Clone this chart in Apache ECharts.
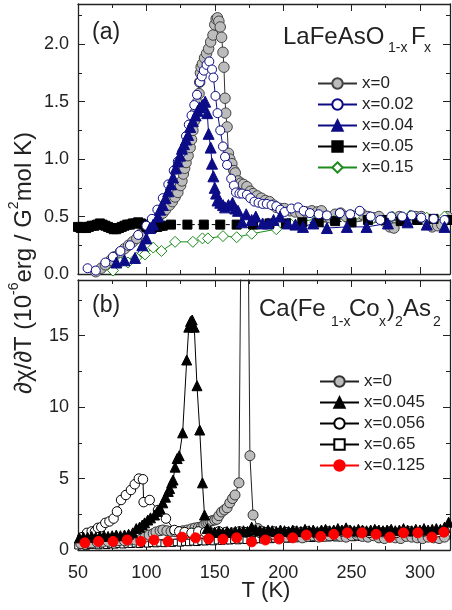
<!DOCTYPE html>
<html><head><meta charset="utf-8">
<script src="https://cdn.jsdelivr.net/npm/echarts@6/dist/echarts.min.js"></script>
<style>html,body{margin:0;padding:0;background:#fff}#c{width:452px;height:610px}</style>
</head><body><div id="c"></div>
<script>
const FONT = '"Liberation Sans", Arial, Helvetica, sans-serif';
const xRange = [50, 322];
const yRangeA = [0, 2.35];
const yRangeB = [0, 18.9];
const xTickStep = 50, yTickStepA = 0.5, yTickStepB = 5;
const legendA = ['x=0', 'x=0.02', 'x=0.04', 'x=0.05', 'x=0.15'];
const legendB = ['x=0 ', 'x=0.045', 'x=0.056', 'x=0.65', 'x=0.125'];

// ---- panel (a): LaFeAsO1-xFx ----
const a_x0 = [[63,0.02],[67,0.05],[70,0.08],[74,0.12],[77,0.15],[81,0.19],[84,0.22],[87,0.25],[90,0.28],[93,0.31],[96,0.35],[100,0.4],[103,0.43],[106,0.46],[109,0.5],[112,0.53],[114,0.56],[117,0.6],[119,0.63],[121,0.67],[123,0.71],[125,0.77],[126,0.81],[127,0.87],[128,0.92],[129,0.97],[130.5,1.03],[132,1.1],[133,1.17],[134,1.25],[135,1.33],[136,1.41],[137,1.49],[138.5,1.57],[139,1.67],[139.5,1.75],[140,1.8],[141,1.83],[142.5,1.88],[144,1.92],[145.5,1.96],[147,2.02],[148.7,2.08],[150,2.17],[151,2.22],[152,2.23],[153,2.2],[154,2.15],[155,2.06],[156,1.93],[156.7,1.8],[157.5,1.53],[158,1.4],[159,1.28],[160,1.05],[161,1.0],[162.5,0.96],[164,0.9],[165,0.88],[167,0.81],[169,0.79],[171,0.78],[173.5,0.76],[176,0.72],[178,0.7],[181,0.68],[184,0.66],[187,0.64],[190,0.63],[193,0.6],[195,0.58],[198,0.57],[201,0.57],[205,0.55],[209,0.54],[213,0.53],[217,0.54],[221,0.55],[225,0.54],[228,0.55],[231,0.5],[234,0.49],[238,0.52],[242,0.53],[246,0.5],[250,0.51],[254,0.5],[258,0.52],[262,0.5],[266,0.49],[270,0.5],[274,0.46],[278,0.41],[281,0.4],[285,0.5],[289,0.47],[293,0.48],[297,0.5],[301,0.5],[305,0.46],[309,0.41],[313,0.42],[316,0.43],[320,0.5]];
const a_x002 = [[57,0.05],[63,0.03],[70,0.1],[75.5,0.15],[81,0.2],[88,0.25],[94,0.34],[100,0.42],[104,0.48],[108,0.56],[112,0.66],[116,0.78],[120,0.9],[123,0.98],[126,1.06],[129,1.2],[131,1.3],[133,1.38],[135,1.47],[137,1.56],[139,1.67],[140.5,1.72],[142,1.77],[144,1.82],[146,1.85],[148,1.78],[149,1.71],[150.5,1.55],[152,1.4],[154,1.25],[156,1.11],[157.5,1.02],[159,0.95],[162,0.83],[164,0.77],[165.5,0.71],[168,0.7],[170,0.7],[173.5,0.69],[176,0.66],[179,0.63],[182,0.62],[185,0.61],[188,0.61],[191.5,0.6],[195,0.59],[198,0.56],[201,0.54],[206,0.57],[211,0.58],[215,0.55],[219.6,0.53],[226,0.52],[232,0.51],[241.5,0.53],[249,0.52],[256,0.55],[264,0.5],[271,0.47],[279,0.5],[287,0.5],[294,0.51],[301,0.49],[310,0.48],[318,0.47]];
const a_x004 = [[78,0.1],[84,0.12],[91.7,0.14],[97,0.25],[100,0.31],[102.6,0.4],[105,0.43],[108.5,0.5],[110,0.56],[112,0.6],[114,0.66],[116,0.72],[118,0.78],[119.5,0.84],[121.5,0.92],[123,0.98],[124.6,1.03],[126,1.09],[127.5,1.13],[129,1.17],[130.5,1.21],[132,1.28],[134,1.33],[136,1.38],[137.5,1.42],[139,1.45],[141,1.47],[143,1.5],[144.5,1.4],[145.5,1.22],[147,1.1],[148,0.96],[149,0.85],[150,0.75],[151,0.7],[152,0.64],[154,0.62],[156,0.6],[157.5,0.58],[160,0.6],[163,0.62],[165,0.57],[167,0.55],[170,0.45],[173,0.52],[177,0.47],[180,0.5],[185,0.44],[189,0.44],[193,0.47],[197.7,0.5],[203.5,0.44],[209,0.43],[214.5,0.41],[222,0.44],[232,0.4],[246.6,0.41],[261,0.41],[276.6,0.44],[291,0.45],[305,0.43],[318,0.41]];
const a_x005 = [[50,0.41],[52,0.4],[54,0.41],[56,0.4],[58,0.41],[60,0.42],[62,0.42],[64,0.43],[66,0.44],[68,0.43],[70,0.42],[72,0.41],[74,0.4],[76,0.39],[78,0.39],[80,0.4],[82,0.41],[84,0.42],[86,0.43],[88,0.43],[90,0.44],[92,0.44],[94,0.45],[96,0.44],[98,0.43],[100,0.41],[102,0.4],[104,0.4],[106,0.41],[108,0.41],[110,0.42],[112,0.42],[118,0.43],[130,0.43],[142,0.43],[154,0.43],[166,0.43],[178,0.43],[190,0.44],[202,0.44],[214,0.45],[226,0.45],[238,0.46],[250,0.45],[262,0.47],[274,0.47],[286,0.46],[298,0.47],[310,0.48],[321,0.47]];
const a_x015 = [[75.6,0.03],[81,0.1],[86.5,0.1],[92.6,0.14],[99,0.17],[105,0.23],[111,0.2],[121,0.28],[134,0.28],[141,0.31],[145,0.31],[156,0.33],[166,0.32],[177,0.35],[195,0.39],[205,0.44],[225,0.48],[238,0.47],[252,0.5],[265,0.48],[280,0.5],[293,0.51],[305,0.49],[318,0.5]];

// ---- panel (b): Ca(Fe1-xCox)2As2 ----
const b_x0 = [[52,0.45],[56,0.5],[60,0.5],[64,0.55],[68,0.55],[72,0.6],[76,0.6],[80,0.65],[84,0.65],[88,0.7],[92,0.7],[96,0.75],[99,0.9],[102,1.05],[105,1.15],[107,1.26],[110,1.35],[112,1.4],[115,1.35],[118,1.3],[121,1.28],[124,1.3],[127,1.35],[130,1.4],[133,1.48],[135.5,1.54],[138,1.58],[140,1.6],[142,1.75],[143.6,1.9],[145,1.95],[146.5,2.0],[148,2.05],[150,2.1],[151.6,2.15],[153,2.4],[155,2.66],[157,2.8],[159,2.95],[161,3.3],[163,3.6],[164.8,3.85],[167.7,4.7],[171.8,55],[175.7,6.6],[178,2.45],[181.6,1.5],[184,1.3],[187,1.15],[190,1.1],[194,1.05],[198,1.0],[202,0.9],[206,1.0],[210,0.95],[214,0.85],[218,0.95],[222,1.0],[226,0.9],[230,0.95],[234,1.0],[238,1.05],[242,0.95],[246,0.9],[250,1.0],[254,1.05],[258,0.95],[262,0.9],[266,1.0],[270,0.85],[274,0.8],[278,0.9],[282,0.85],[286,0.8],[290,0.95],[294,0.9],[298,0.85],[302,0.8],[306,0.9],[310,0.85],[314,0.8],[318,0.9]];
const b_x0045 = [[51,0.85],[54,0.9],[57,0.9],[60,0.95],[63,0.9],[66,0.95],[69,1.0],[72,0.95],[75,1.0],[78,1.05],[81,1.0],[84,1.05],[87,1.1],[90,1.2],[92.6,1.5],[95,1.6],[97,1.75],[98.7,1.9],[101,2.1],[103,2.25],[106,2.45],[108,2.7],[110,2.9],[112,3.3],[114,3.7],[116,4.1],[117,4.3],[118.5,4.7],[119.5,4.9],[121,5.8],[122.5,6.4],[124,6.6],[126.5,8.2],[129.5,13.3],[131,15.6],[132.3,16.0],[133.5,16.1],[135,15.6],[137,11.5],[139,8.4],[141,4.7],[142.5,2.45],[144.5,1.5],[147,1.3],[150,1.25],[153,1.3],[156,1.2],[159,1.3],[162,1.25],[165,1.3],[168,1.3],[171,1.35],[174,1.3],[177,1.6],[180,1.4],[183,1.35],[186,1.3],[189,1.4],[192,1.35],[195,1.3],[198,1.4],[201,1.35],[204,1.3],[207,1.4],[210,1.35],[213,1.3],[216,1.45],[219,1.35],[222,1.4],[225,1.3],[228,1.4],[231,1.45],[234,1.35],[237,1.4],[240,1.5],[243,1.4],[246,1.55],[249,1.4],[252,1.35],[255,1.45],[258,1.4],[261,1.35],[264,1.4],[267,1.45],[270,1.4],[273,1.35],[276,1.4],[279,1.45],[282,1.35],[285,1.4],[288,1.5],[291,1.4],[294,1.35],[297,1.45],[300,1.4],[303,1.5],[306,1.4],[309,1.45],[312,1.5],[315,1.45],[318,1.6],[321,1.95]];
const b_x0056 = [[53,0.9],[56.6,1.2],[60,1.3],[62.4,1.3],[64.6,1.55],[67,1.6],[70,1.9],[73,2.0],[76,2.2],[78.5,2.7],[81.5,3.5],[85,3.85],[88.7,4.2],[91.5,4.6],[94.5,5.0],[97.5,4.95],[98,3.35],[102.4,3.5],[108.5,2.8],[114.3,2.2],[120.5,1.4],[124,1.3],[128,1.25],[133,1.2],[138,1.3],[143,1.25],[148,1.2],[153,1.3],[158,1.25],[163,1.2],[168,1.3],[173,1.25],[178,1.3],[183,1.2],[188,1.25],[193,1.3],[198,1.2],[203,1.25],[208,1.3],[213,1.25],[218,1.3],[223,1.2],[228,1.25],[233,1.3],[238,1.25],[243,1.3],[248,1.35],[253,1.25],[258,1.3],[263,1.2],[268,1.3],[273,1.25],[278,1.3],[283,1.2],[288,1.25],[293,1.3],[298,1.25],[303,1.3],[308,1.2],[313,1.25],[318,1.3]];
const b_x065 = [[50,0.3],[53,0.33],[56,0.28],[59,0.34],[62,0.35],[65,0.31],[68,0.37],[71,0.33],[74,0.38],[77,0.36],[80,0.41],[83,0.37],[86,0.42],[89,0.4],[92,0.44],[95,0.4],[98,0.46],[101,0.43],[104,0.47],[107,0.45],[110,0.49],[113,0.46],[116,0.51],[119,0.48],[122,0.53],[125,0.5],[128,0.55],[131,0.53],[134,0.57],[137,0.54],[140,0.6],[143,0.58],[146,0.62],[149,0.59],[152,0.65],[155,0.62],[158,0.66],[161,0.65],[164,0.69],[167,0.66],[170,0.71],[173,0.68],[176,0.72],[179,0.71],[182,0.74],[185,0.72],[188,0.77],[191,0.74],[194,0.78],[197,0.76],[200,0.8],[203,0.77],[206,0.82],[209,0.8],[212,0.83],[215,0.81],[218,0.85],[221,0.82],[224,0.87],[227,0.83],[230,0.88],[233,0.86],[236,0.89],[239,0.86],[242,0.9],[245,0.88],[248,0.91],[251,0.88],[254,0.93],[257,0.89],[260,0.93],[263,0.91],[266,0.94],[269,0.9],[272,0.95],[275,0.92],[278,0.96],[281,0.93],[284,0.96],[287,0.94],[290,0.97],[293,0.93],[296,0.98],[299,0.95],[302,0.98],[305,0.96],[308,0.99],[311,0.96],[314,0.99],[317,0.97],[320,1.0]];
const b_x0125 = [[55,0.5],[65,0.6],[75.6,0.6],[86,0.7],[96,0.6],[105.6,0.7],[115.8,0.6],[126,0.9],[136,0.85],[145.5,0.78],[156,0.75],[166,0.85],[177,0.57],[187,0.7],[197,0.77],[207,0.85],[217,1.05],[227.5,0.95],[237,1.1],[247,1.2],[257.6,1.2],[268,1.1],[278,0.9],[288,1.2],[298.5,1.2],[308.8,0.9],[317.5,1.25]];

const AX = '#222';
function xAx(grid, pos, labels) {
  return {
    type: 'value', gridIndex: grid, position: pos, min: xRange[0], max: xRange[1], interval: xTickStep,
    axisLine: { show: true, onZero: false, lineStyle: { color: AX, width: 1.3 } },
    axisTick: { show: true, inside: true, length: 7, lineStyle: { color: AX, width: 1 } },
    minorTick: { show: true, splitNumber: 2, length: 4, lineStyle: { color: AX, width: 1 } },
    splitLine: { show: false },
    axisLabel: { show: labels, showMaxLabel: false, margin: 14, fontFamily: FONT, fontSize: 18, color: '#222',
      formatter: v => (v % xTickStep === 0 ? String(v) : '') }
  };
}
function yAx(grid, pos, labels, range, step, dec) {
  return {
    type: 'value', gridIndex: grid, position: pos, min: range[0], max: range[1], interval: step,
    axisLine: { show: true, onZero: false, lineStyle: { color: AX, width: 1.3 } },
    axisTick: { show: true, inside: true, length: 7, lineStyle: { color: AX, width: 1 } },
    minorTick: { show: true, splitNumber: 2, length: 4, lineStyle: { color: AX, width: 1 } },
    splitLine: { show: false },
    axisLabel: { show: labels, showMaxLabel: false, margin: 9, fontFamily: FONT, fontSize: 18, color: '#222',
      formatter: v => (Math.abs(v / step - Math.round(v / step)) < 1e-6 ? v.toFixed(dec) : '') }
  };
}
function ser(name, data, xi, yi, symbol, size, fill, edge, line, dashed) {
  return {
    name, type: 'line', data, xAxisIndex: xi, yAxisIndex: yi, symbol, symbolSize: size,
    showAllSymbol: true, animation: false, clip: true,
    lineStyle: { color: line, width: 1, type: dashed ? [4, 3] : 'solid' },
    itemStyle: { color: fill, borderColor: edge, borderWidth: 1 },
    emphasis: { disabled: true }
  };
}

const chart = echarts.init(document.getElementById('c'), null, { renderer: 'canvas' });
const NAVY = '#0c0c86', GREEN = '#1c8c1c', GRAY = '#bcbcbc';
const legendCommon = {
  orient: 'vertical', itemWidth: 39, itemHeight: 13, itemGap: 4, padding: 0,
  textStyle: { fontFamily: FONT, fontSize: 17, color: '#222' },
  inactiveColor: '#222', selectedMode: false
};
const solid = { type: 'solid' };
const T = (t, s) => ({ type: 'text', x: t[0], y: t[1], style: Object.assign({ fontFamily: FONT, fill: '#222', verticalAlign: 'middle' }, s) });
chart.setOption({
  animation: false,
  backgroundColor: '#fff',
  grid: [
    { left: 78, top: 4, width: 372, height: 270 },
    { left: 78, top: 280, width: 372, height: 270 }
  ],
  xAxis: [xAx(0, 'bottom', false), xAx(0, 'top', false), xAx(1, 'bottom', true), xAx(1, 'top', false)],
  yAxis: [yAx(0, 'left', true, yRangeA, yTickStepA, 1), yAx(0, 'right', false, yRangeA, yTickStepA, 1),
          yAx(1, 'left', true, yRangeB, yTickStepB, 0), yAx(1, 'right', false, yRangeB, yTickStepB, 0)],
  legend: [
    Object.assign({ data: legendA.map(n => ({ name: n, lineStyle: solid })), left: 317, top: 75 }, legendCommon),
    Object.assign({ data: legendB.map(n => ({ name: n, lineStyle: solid })), left: 319, top: 373 }, legendCommon)
  ],
  series: [
    ser(legendA[0], a_x0, 0, 0, 'circle', 10.5, GRAY, '#444', '#333'),
    ser(legendA[4], a_x015, 0, 0, 'diamond', 11, '#fff', GREEN, GREEN),
    ser(legendA[3], a_x005, 0, 0, 'rect', 9, '#000', '#000', '#000', true),
    ser(legendA[1], a_x002, 0, 0, 'circle', 9, '#fff', NAVY, NAVY),
    ser(legendA[2], a_x004, 0, 0, 'triangle', 11, NAVY, NAVY, NAVY),
    ser(legendB[3], b_x065, 2, 2, 'rect', 6.5, '#fff', '#000', '#000'),
    ser(legendB[0], b_x0, 2, 2, 'circle', 10, GRAY, '#333', '#222'),
    ser(legendB[2], b_x0056, 2, 2, 'circle', 9.5, '#fff', '#000', '#000'),
    ser(legendB[1], b_x0045, 2, 2, 'triangle', 10, '#000', '#000', '#000'),
    ser(legendB[4], b_x0125, 2, 2, 'circle', 10, '#ff0000', '#ff0000', '#ff0000')
  ],
  graphic: [
    T([92, 33], { text: '(a)', fontSize: 23 }),
    T([92, 306], { text: '(b)', fontSize: 23 }),
    T([283, 37], { text: 'LaFeAsO', fontSize: 24 }),
    T([388, 48.5], { text: '1-x', fontSize: 14 }),
    T([411, 37], { text: 'F', fontSize: 24 }),
    T([424, 48.5], { text: 'x', fontSize: 14 }),
    T([259, 309.3], { text: 'Ca(Fe', fontSize: 24 }),
    T([331, 322], { text: '1-x', fontSize: 14 }),
    T([349, 309.3], { text: 'Co', fontSize: 24 }),
    T([379, 322], { text: 'x', fontSize: 14 }),
    T([387, 309.3], { text: ')', fontSize: 24 }),
    T([395, 322], { text: '2', fontSize: 14 }),
    T([403, 309.3], { text: 'As', fontSize: 24 }),
    T([433, 322], { text: '2', fontSize: 14 }),
    T([266, 591], { text: 'T (K)', fontSize: 22, align: 'center' }),
    { type: 'text', x: 24, y: 263, rotation: Math.PI / 2,
      style: { text: '{n|∂χ/∂T (10}{s|-6}{n|erg / G}{s|2}{n|mol K)}', align: 'center', verticalAlign: 'middle', fill: '#222',
        rich: { n: { fontFamily: FONT, fontSize: 24, fill: '#222' },
                s: { fontFamily: FONT, fontSize: 14, fill: '#222', padding: [0, 0, 19, 0] } } } }
  ]
});
</script>
</body></html>
